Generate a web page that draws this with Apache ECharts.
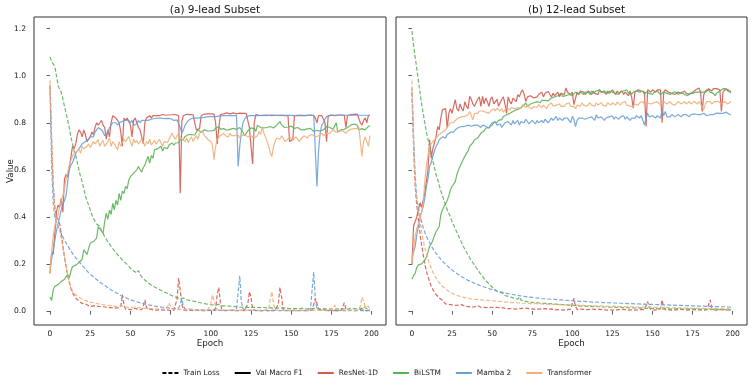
<!DOCTYPE html>
<html>
<head>
<meta charset="utf-8">
<script src="https://cdn.jsdelivr.net/npm/echarts@6/dist/echarts.min.js"></script>
<style>
html,body{margin:0;padding:0;background:#fff;}
#chart{width:753px;height:386px;}
</style>
</head>
<body>
<div id="chart"></div>
<script>
// ---------- Data ----------
const panelTitles = ['(a) 9-lead Subset', '(b) 12-lead Subset'];
const modelNames = ['ResNet-1D', 'BiLSTM', 'Mamba 2', 'Transformer'];
const styleNames = ['Train Loss', 'Val Macro F1'];
const xTicks = [0, 25, 50, 75, 100, 125, 150, 175, 200];
const yTicks = [0.0, 0.2, 0.4, 0.6, 0.8, 1.0, 1.2];
const epochs = Array.from({length: 200}, (_, i) => i);

// ----- (a) 9-lead -----
const L_RES_LOSS = [0.96,0.72,0.53,0.44,0.40,0.39,0.37,0.33,0.28,0.23,
0.19,0.15,0.12,0.095,0.078,0.065,0.055,0.048,0.042,0.036,
0.032,0.028,0.03,0.025,0.022,0.026,0.02,0.018,0.023,0.017,
0.02,0.016,0.019,0.014,0.017,0.012,0.015,0.011,0.014,0.01,
0.012,0.009,0.013,0.01,0.02,0.07,0.025,0.008,0.011,0.007,
0.01,0.006,0.009,0.012,0.007,0.005,0.008,0.006,0.02,0.047,
0.015,0.006,0.004,0.008,0.005,0.003,0.006,0.004,0.003,0.005,
0.003,0.004,0.002,0.005,0.003,0.002,0.004,0.003,0.002,0.05,
0.14,0.145,0.03,0.004,0.003,0.002,0.004,0.003,0.002,0.003,
0.002,0.004,0.002,0.003,0.002,0.002,0.003,0.002,0.002,0.003,
0.002,0.003,0.002,0.01,0.07,0.1,0.03,0.003,0.002,0.002,
0.003,0.002,0.002,0.003,0.002,0.002,0.003,0.002,0.002,0.003,
0.002,0.002,0.003,0.03,0.082,0.06,0.005,0.002,0.003,0.002,
0.002,0.003,0.002,0.002,0.003,0.002,0.002,0.003,0.002,0.002,
0.003,0.002,0.03,0.1,0.06,0.004,0.002,0.003,0.002,0.002,
0.01,0.003,0.002,0.002,0.003,0.002,0.002,0.003,0.002,0.002,
0.003,0.002,0.002,0.003,0.01,0.054,0.05,0.01,0.003,0.002,
0.002,0.01,0.003,0.002,0.002,0.003,0.002,0.002,0.003,0.002,
0.002,0.003,0.015,0.035,0.01,0.002,0.003,0.002,0.002,0.003,
0.002,0.002,0.003,0.006,0.01,0.003,0.002,0.002,0.003,0.002];
const L_BIL_LOSS = [1.08,1.06,1.05,1.04,1.00,0.96,0.94,0.93,0.90,0.87,
0.84,0.81,0.78,0.74,0.71,0.68,0.66,0.63,0.60,0.57,
0.55,0.52,0.49,0.47,0.45,0.43,0.41,0.395,0.38,0.37,
0.365,0.36,0.34,0.33,0.315,0.305,0.295,0.285,0.275,0.265,
0.258,0.25,0.24,0.232,0.225,0.218,0.21,0.205,0.198,0.19,
0.182,0.176,0.17,0.165,0.162,0.172,0.155,0.145,0.138,0.132,
0.126,0.12,0.115,0.11,0.106,0.102,0.098,0.095,0.092,0.088,
0.085,0.081,0.078,0.075,0.072,0.068,0.065,0.062,0.059,0.057,
0.055,0.053,0.05,0.055,0.05,0.048,0.046,0.044,0.045,0.042,
0.044,0.04,0.038,0.036,0.035,0.033,0.031,0.03,0.029,0.028,
0.027,0.026,0.03,0.025,0.024,0.028,0.023,0.022,0.021,0.022,
0.02,0.021,0.019,0.02,0.018,0.019,0.018,0.017,0.018,0.016,
0.017,0.016,0.018,0.015,0.016,0.015,0.014,0.016,0.014,0.015,
0.013,0.014,0.013,0.015,0.012,0.013,0.012,0.014,0.012,0.011,
0.013,0.012,0.011,0.013,0.011,0.012,0.01,0.012,0.011,0.01,
0.012,0.01,0.011,0.01,0.012,0.01,0.009,0.011,0.01,0.009,
0.011,0.009,0.01,0.009,0.011,0.012,0.01,0.009,0.011,0.009,
0.01,0.009,0.011,0.008,0.01,0.009,0.012,0.008,0.01,0.009,
0.008,0.01,0.009,0.008,0.01,0.008,0.009,0.011,0.008,0.009,
0.008,0.01,0.009,0.008,0.012,0.018,0.015,0.01,0.009,0.008];
const L_MAM_LOSS = [0.95,0.62,0.46,0.40,0.375,0.36,0.345,0.33,0.315,0.30,
0.29,0.278,0.266,0.255,0.245,0.235,0.226,0.218,0.21,0.202,
0.194,0.186,0.178,0.17,0.163,0.157,0.151,0.145,0.139,0.134,
0.129,0.123,0.118,0.113,0.108,0.103,0.099,0.094,0.09,0.086,
0.082,0.078,0.074,0.07,0.066,0.063,0.06,0.057,0.054,0.051,
0.048,0.046,0.043,0.041,0.039,0.037,0.035,0.033,0.031,0.029,
0.028,0.026,0.025,0.023,0.022,0.021,0.02,0.019,0.018,0.017,
0.016,0.015,0.014,0.013,0.013,0.012,0.011,0.011,0.01,0.01,
0.012,0.03,0.05,0.02,0.009,0.008,0.008,0.007,0.007,0.006,
0.006,0.006,0.005,0.005,0.005,0.005,0.004,0.004,0.004,0.004,
0.004,0.004,0.003,0.003,0.003,0.003,0.003,0.003,0.003,0.003,
0.003,0.003,0.003,0.003,0.003,0.003,0.01,0.08,0.15,0.04,
0.01,0.005,0.004,0.003,0.003,0.003,0.003,0.003,0.002,0.002,
0.002,0.003,0.002,0.002,0.002,0.003,0.002,0.002,0.002,0.002,
0.003,0.002,0.002,0.002,0.002,0.003,0.002,0.002,0.002,0.002,
0.002,0.003,0.002,0.002,0.002,0.002,0.003,0.002,0.002,0.002,
0.002,0.002,0.01,0.09,0.165,0.05,0.01,0.004,0.003,0.003,
0.003,0.002,0.002,0.002,0.003,0.002,0.002,0.002,0.002,0.003,
0.002,0.002,0.002,0.003,0.002,0.002,0.002,0.002,0.003,0.002,
0.002,0.002,0.003,0.002,0.002,0.002,0.002,0.003,0.002,0.002];
const L_TRA_LOSS = [0.98,0.74,0.55,0.43,0.37,0.355,0.34,0.31,0.27,0.23,
0.19,0.155,0.125,0.10,0.085,0.075,0.068,0.063,0.058,0.054,
0.05,0.047,0.044,0.042,0.04,0.038,0.036,0.035,0.033,0.032,
0.03,0.029,0.028,0.027,0.026,0.025,0.024,0.023,0.022,0.021,
0.021,0.02,0.019,0.019,0.018,0.022,0.017,0.016,0.02,0.016,
0.015,0.015,0.014,0.016,0.013,0.013,0.012,0.014,0.012,0.011,
0.011,0.012,0.01,0.01,0.011,0.009,0.01,0.009,0.008,0.009,
0.008,0.008,0.009,0.015,0.035,0.02,0.008,0.007,0.007,0.006,
0.007,0.006,0.006,0.007,0.005,0.006,0.005,0.005,0.006,0.005,
0.005,0.004,0.005,0.004,0.005,0.004,0.004,0.005,0.004,0.01,
0.03,0.068,0.065,0.02,0.005,0.004,0.004,0.003,0.004,0.003,
0.003,0.004,0.003,0.003,0.004,0.003,0.003,0.003,0.004,0.003,
0.003,0.003,0.004,0.003,0.003,0.003,0.004,0.003,0.003,0.003,
0.003,0.004,0.003,0.003,0.003,0.004,0.01,0.05,0.082,0.03,
0.005,0.003,0.003,0.004,0.003,0.003,0.003,0.004,0.003,0.003,
0.003,0.004,0.003,0.003,0.003,0.004,0.003,0.003,0.003,0.004,
0.003,0.003,0.004,0.003,0.003,0.003,0.004,0.003,0.003,0.003,
0.003,0.003,0.004,0.003,0.003,0.003,0.01,0.025,0.01,0.003,
0.003,0.003,0.004,0.003,0.003,0.003,0.004,0.003,0.003,0.003,
0.003,0.003,0.004,0.02,0.058,0.045,0.015,0.01,0.02,0.01];
const L_RES_F1 = [0.16,0.25,0.24,0.33,0.42,0.45,0.44,0.48,0.42,0.56,
0.58,0.57,0.61,0.61,0.70,0.69,0.71,0.75,0.77,0.76,
0.74,0.77,0.75,0.72,0.73,0.74,0.76,0.75,0.78,0.80,
0.79,0.80,0.81,0.79,0.78,0.73,0.77,0.74,0.80,0.83,
0.834,0.82,0.81,0.80,0.76,0.70,0.82,0.81,0.82,0.815,
0.79,0.74,0.81,0.82,0.80,0.78,0.77,0.74,0.71,0.80,
0.82,0.825,0.83,0.82,0.83,0.825,0.83,0.835,0.83,0.832,
0.835,0.83,0.832,0.835,0.833,0.835,0.834,0.836,0.835,0.832,
0.83,0.50,0.81,0.83,0.834,0.836,0.833,0.835,0.832,0.834,
0.80,0.77,0.77,0.775,0.83,0.835,0.837,0.835,0.838,0.836,
0.838,0.835,0.837,0.80,0.71,0.78,0.835,0.84,0.838,0.84,
0.842,0.84,0.838,0.84,0.842,0.84,0.838,0.84,0.841,0.839,
0.84,0.838,0.84,0.839,0.78,0.70,0.625,0.80,0.835,0.833,
0.832,0.833,0.83,0.832,0.833,0.83,0.832,0.831,0.833,0.83,
0.832,0.833,0.832,0.83,0.831,0.833,0.83,0.832,0.83,0.72,
0.714,0.73,0.83,0.832,0.83,0.833,0.831,0.832,0.83,0.833,
0.832,0.83,0.833,0.831,0.83,0.82,0.80,0.83,0.832,0.83,
0.831,0.80,0.72,0.83,0.832,0.833,0.831,0.83,0.832,0.833,
0.831,0.833,0.835,0.832,0.78,0.83,0.833,0.835,0.834,0.836,
0.835,0.837,0.834,0.80,0.79,0.81,0.82,0.80,0.831,0.832];
const L_BIL_F1 = [0.06,0.045,0.09,0.105,0.11,0.112,0.118,0.125,0.128,0.135,
0.146,0.155,0.14,0.17,0.189,0.19,0.195,0.203,0.205,0.21,
0.22,0.26,0.25,0.24,0.265,0.288,0.28,0.295,0.30,0.31,
0.359,0.366,0.34,0.33,0.38,0.416,0.39,0.43,0.41,0.458,
0.43,0.47,0.45,0.50,0.47,0.51,0.50,0.53,0.52,0.557,
0.571,0.57,0.586,0.58,0.60,0.614,0.60,0.59,0.61,0.62,
0.64,0.657,0.628,0.66,0.65,0.685,0.678,0.69,0.69,0.70,
0.68,0.695,0.70,0.69,0.705,0.71,0.714,0.705,0.714,0.72,
0.715,0.728,0.725,0.73,0.742,0.74,0.749,0.745,0.75,0.755,
0.748,0.76,0.77,0.763,0.76,0.755,0.77,0.777,0.765,0.77,
0.765,0.772,0.768,0.777,0.77,0.784,0.772,0.765,0.775,0.77,
0.768,0.775,0.772,0.768,0.776,0.78,0.772,0.777,0.78,0.77,
0.76,0.745,0.755,0.765,0.77,0.778,0.784,0.775,0.763,0.79,
0.785,0.78,0.784,0.778,0.772,0.78,0.776,0.784,0.78,0.778,
0.785,0.79,0.795,0.805,0.79,0.785,0.78,0.776,0.782,0.79,
0.786,0.78,0.776,0.772,0.78,0.775,0.77,0.763,0.77,0.776,
0.774,0.772,0.776,0.77,0.763,0.76,0.768,0.772,0.765,0.763,
0.77,0.775,0.784,0.778,0.78,0.776,0.772,0.78,0.80,0.76,
0.765,0.77,0.778,0.772,0.776,0.78,0.784,0.79,0.782,0.795,
0.80,0.79,0.77,0.765,0.775,0.78,0.77,0.775,0.785,0.787];
const L_MAM_F1 = [0.18,0.22,0.26,0.30,0.34,0.37,0.40,0.43,0.45,0.47,
0.49,0.55,0.60,0.62,0.63,0.65,0.67,0.68,0.69,0.70,
0.71,0.71,0.72,0.715,0.73,0.74,0.745,0.74,0.76,0.77,
0.78,0.775,0.77,0.76,0.745,0.74,0.76,0.78,0.79,0.80,
0.795,0.80,0.79,0.80,0.805,0.806,0.80,0.81,0.805,0.81,
0.80,0.81,0.79,0.79,0.795,0.81,0.80,0.81,0.812,0.81,
0.815,0.81,0.812,0.815,0.81,0.818,0.815,0.82,0.818,0.82,
0.82,0.818,0.82,0.819,0.82,0.818,0.815,0.81,0.81,0.812,
0.81,0.78,0.756,0.77,0.79,0.80,0.81,0.815,0.818,0.82,
0.82,0.822,0.82,0.823,0.822,0.825,0.823,0.825,0.826,0.825,
0.826,0.827,0.826,0.828,0.827,0.828,0.829,0.828,0.83,0.829,
0.83,0.829,0.83,0.831,0.83,0.831,0.83,0.614,0.70,0.76,
0.80,0.815,0.825,0.828,0.83,0.829,0.83,0.831,0.83,0.831,
0.83,0.831,0.832,0.831,0.83,0.831,0.832,0.831,0.83,0.831,
0.832,0.831,0.83,0.831,0.832,0.831,0.832,0.83,0.831,0.832,
0.831,0.832,0.83,0.831,0.832,0.831,0.832,0.831,0.83,0.832,
0.831,0.832,0.831,0.83,0.832,0.831,0.529,0.68,0.756,0.79,
0.80,0.815,0.826,0.829,0.83,0.831,0.832,0.831,0.832,0.831,
0.832,0.831,0.832,0.833,0.832,0.831,0.832,0.833,0.832,0.831,
0.832,0.833,0.832,0.831,0.832,0.833,0.832,0.831,0.832,0.832];
const L_TRA_F1 = [0.16,0.25,0.32,0.36,0.39,0.41,0.44,0.47,0.49,0.52,
0.56,0.59,0.62,0.64,0.66,0.67,0.665,0.68,0.69,0.67,
0.70,0.69,0.685,0.70,0.71,0.695,0.70,0.72,0.71,0.715,
0.728,0.70,0.715,0.725,0.70,0.71,0.72,0.735,0.70,0.72,
0.71,0.706,0.685,0.72,0.70,0.715,0.73,0.72,0.72,0.742,
0.72,0.70,0.73,0.715,0.725,0.71,0.714,0.73,0.72,0.70,
0.72,0.71,0.73,0.706,0.715,0.725,0.71,0.72,0.73,0.715,
0.70,0.72,0.725,0.715,0.73,0.742,0.756,0.74,0.73,0.745,
0.756,0.74,0.73,0.725,0.72,0.735,0.715,0.73,0.74,0.72,
0.735,0.745,0.73,0.755,0.76,0.763,0.745,0.74,0.73,0.735,
0.72,0.705,0.643,0.70,0.73,0.735,0.745,0.75,0.755,0.745,
0.75,0.74,0.755,0.745,0.75,0.745,0.74,0.748,0.735,0.745,
0.74,0.75,0.745,0.74,0.735,0.745,0.74,0.735,0.73,0.745,
0.763,0.75,0.784,0.755,0.74,0.72,0.70,0.671,0.657,0.70,
0.72,0.735,0.74,0.73,0.745,0.735,0.72,0.725,0.73,0.74,
0.735,0.725,0.73,0.74,0.735,0.72,0.73,0.735,0.745,0.74,
0.735,0.745,0.74,0.75,0.745,0.74,0.735,0.745,0.75,0.755,
0.745,0.75,0.755,0.763,0.755,0.76,0.77,0.765,0.76,0.755,
0.765,0.77,0.765,0.76,0.755,0.765,0.77,0.772,0.768,0.775,
0.77,0.775,0.784,0.72,0.657,0.72,0.74,0.72,0.70,0.745];

// ----- (b) 12-lead -----
const R_RES_LOSS = [0.93,0.70,0.53,0.45,0.387,0.33,0.28,0.24,0.20,0.17,
0.145,0.125,0.105,0.092,0.08,0.07,0.062,0.056,0.05,0.046,
0.038,0.03,0.036,0.028,0.032,0.026,0.03,0.024,0.029,0.025,
0.022,0.027,0.023,0.02,0.025,0.019,0.022,0.018,0.021,0.017,
0.02,0.023,0.018,0.016,0.02,0.015,0.018,0.014,0.017,0.015,
0.013,0.016,0.012,0.015,0.011,0.014,0.01,0.013,0.012,0.009,
0.012,0.01,0.013,0.009,0.011,0.008,0.012,0.01,0.007,0.011,
0.009,0.012,0.008,0.01,0.006,0.009,0.011,0.007,0.01,0.008,
0.006,0.009,0.007,0.01,0.006,0.008,0.005,0.009,0.007,0.005,
0.008,0.006,0.009,0.005,0.007,0.004,0.008,0.006,0.005,0.008,
0.01,0.054,0.02,0.006,0.005,0.008,0.004,0.007,0.005,0.006,
0.004,0.007,0.005,0.008,0.004,0.006,0.005,0.007,0.004,0.006,
0.005,0.004,0.007,0.005,0.006,0.004,0.007,0.005,0.004,0.006,
0.005,0.007,0.004,0.006,0.005,0.004,0.007,0.005,0.006,0.004,
0.006,0.005,0.004,0.007,0.005,0.006,0.01,0.04,0.015,0.005,
0.006,0.004,0.007,0.005,0.004,0.01,0.047,0.015,0.006,0.004,
0.006,0.005,0.004,0.007,0.005,0.004,0.006,0.005,0.007,0.004,
0.005,0.006,0.004,0.007,0.005,0.004,0.006,0.005,0.004,0.006,
0.005,0.007,0.004,0.005,0.006,0.01,0.047,0.012,0.005,0.004,
0.006,0.005,0.004,0.007,0.005,0.004,0.006,0.005,0.004,0.005];
const R_BIL_LOSS = [1.19,1.13,1.08,1.03,0.98,0.93,0.88,0.84,0.80,0.76,
0.73,0.70,0.67,0.64,0.61,0.58,0.56,0.535,0.51,0.49,
0.47,0.45,0.43,0.415,0.40,0.38,0.365,0.35,0.335,0.32,
0.305,0.29,0.275,0.262,0.25,0.238,0.226,0.215,0.205,0.195,
0.185,0.175,0.165,0.155,0.146,0.138,0.13,0.122,0.115,0.108,
0.102,0.096,0.09,0.085,0.08,0.076,0.078,0.07,0.066,0.064,
0.062,0.06,0.058,0.056,0.054,0.052,0.05,0.06,0.046,0.044,
0.042,0.041,0.04,0.039,0.038,0.037,0.036,0.035,0.036,0.034,
0.033,0.034,0.032,0.031,0.032,0.03,0.031,0.029,0.03,0.028,
0.029,0.027,0.028,0.026,0.027,0.025,0.026,0.024,0.025,0.023,
0.024,0.022,0.023,0.021,0.022,0.02,0.021,0.019,0.021,0.019,
0.02,0.018,0.019,0.018,0.02,0.017,0.018,0.016,0.018,0.016,
0.017,0.015,0.017,0.015,0.016,0.014,0.016,0.014,0.015,0.013,
0.015,0.013,0.014,0.012,0.014,0.012,0.013,0.011,0.013,0.011,
0.012,0.011,0.013,0.01,0.012,0.01,0.011,0.01,0.012,0.009,
0.011,0.009,0.011,0.01,0.009,0.011,0.009,0.01,0.008,0.01,
0.009,0.011,0.008,0.01,0.009,0.008,0.01,0.009,0.008,0.01,
0.008,0.009,0.01,0.008,0.009,0.007,0.009,0.008,0.007,0.009,
0.008,0.007,0.009,0.008,0.007,0.008,0.006,0.008,0.007,0.006,
0.008,0.007,0.006,0.008,0.006,0.007,0.006,0.007,0.005,0.006];
const R_MAM_LOSS = [0.95,0.75,0.58,0.48,0.44,0.41,0.38,0.355,0.335,0.318,
0.303,0.29,0.277,0.266,0.256,0.246,0.237,0.228,0.22,0.212,
0.205,0.198,0.192,0.186,0.18,0.174,0.169,0.164,0.159,0.155,
0.15,0.146,0.142,0.138,0.134,0.13,0.127,0.124,0.121,0.118,
0.115,0.112,0.11,0.107,0.105,0.102,0.1,0.098,0.095,0.093,
0.091,0.089,0.087,0.085,0.083,0.082,0.08,0.078,0.077,0.075,
0.074,0.072,0.071,0.07,0.068,0.067,0.066,0.065,0.064,0.063,
0.062,0.061,0.06,0.059,0.058,0.058,0.057,0.056,0.055,0.055,
0.054,0.053,0.053,0.052,0.051,0.051,0.05,0.05,0.049,0.049,
0.048,0.048,0.047,0.047,0.046,0.046,0.045,0.045,0.044,0.044,
0.044,0.043,0.043,0.042,0.042,0.041,0.041,0.041,0.04,0.04,
0.04,0.039,0.039,0.038,0.038,0.038,0.037,0.037,0.037,0.036,
0.036,0.036,0.035,0.035,0.035,0.034,0.034,0.034,0.033,0.033,
0.033,0.033,0.032,0.032,0.032,0.031,0.031,0.031,0.031,0.03,
0.03,0.03,0.03,0.029,0.029,0.029,0.029,0.028,0.028,0.028,
0.028,0.028,0.027,0.027,0.027,0.027,0.026,0.026,0.026,0.026,
0.026,0.025,0.025,0.025,0.025,0.024,0.024,0.024,0.024,0.024,
0.023,0.023,0.023,0.023,0.022,0.022,0.022,0.022,0.022,0.021,
0.021,0.021,0.021,0.02,0.02,0.02,0.02,0.02,0.019,0.019,
0.019,0.019,0.018,0.018,0.018,0.018,0.017,0.017,0.017,0.016];
const R_TRA_LOSS = [0.98,0.72,0.55,0.47,0.42,0.385,0.34,0.30,0.27,0.245,
0.22,0.2,0.182,0.166,0.152,0.14,0.13,0.121,0.113,0.105,
0.098,0.093,0.088,0.084,0.08,0.076,0.072,0.069,0.066,0.064,
0.062,0.06,0.058,0.057,0.055,0.054,0.052,0.051,0.05,0.049,
0.049,0.048,0.047,0.047,0.046,0.046,0.045,0.045,0.044,0.044,
0.044,0.043,0.042,0.042,0.041,0.041,0.04,0.039,0.039,0.038,
0.038,0.037,0.037,0.036,0.036,0.035,0.035,0.034,0.034,0.033,
0.033,0.033,0.032,0.032,0.032,0.031,0.031,0.031,0.03,0.03,
0.03,0.03,0.029,0.029,0.029,0.029,0.028,0.028,0.028,0.028,
0.028,0.027,0.027,0.027,0.027,0.026,0.026,0.026,0.026,0.026,
0.026,0.025,0.025,0.025,0.025,0.024,0.024,0.024,0.024,0.023,
0.023,0.023,0.023,0.022,0.022,0.022,0.022,0.022,0.021,0.021,
0.021,0.021,0.021,0.02,0.02,0.02,0.02,0.02,0.019,0.019,
0.019,0.019,0.019,0.018,0.018,0.018,0.018,0.018,0.018,0.017,
0.017,0.017,0.017,0.017,0.016,0.016,0.016,0.016,0.016,0.016,
0.015,0.015,0.015,0.015,0.015,0.015,0.014,0.014,0.014,0.014,
0.014,0.014,0.013,0.013,0.013,0.013,0.013,0.013,0.012,0.012,
0.012,0.012,0.012,0.012,0.012,0.011,0.011,0.011,0.011,0.011,
0.011,0.011,0.011,0.01,0.01,0.01,0.01,0.01,0.01,0.01,
0.01,0.01,0.009,0.009,0.009,0.009,0.009,0.009,0.009,0.009];
const R_RES_F1 = [0.196,0.36,0.36,0.40,0.43,0.46,0.44,0.47,0.50,0.55,
0.60,0.728,0.65,0.69,0.714,0.74,0.784,0.77,0.82,0.855,
0.85,0.86,0.777,0.84,0.86,0.84,0.87,0.898,0.86,0.85,
0.88,0.86,0.85,0.89,0.87,0.86,0.912,0.90,0.88,0.87,
0.862,0.90,0.91,0.87,0.912,0.88,0.905,0.89,0.87,0.90,
0.91,0.88,0.89,0.90,0.87,0.862,0.90,0.91,0.88,0.84,
0.91,0.89,0.88,0.905,0.91,0.89,0.92,0.91,0.93,0.94,
0.92,0.89,0.91,0.905,0.915,0.91,0.905,0.90,0.91,0.92,
0.915,0.93,0.91,0.925,0.92,0.933,0.92,0.91,0.925,0.915,
0.92,0.93,0.91,0.925,0.93,0.92,0.948,0.93,0.925,0.92,
0.93,0.877,0.87,0.93,0.92,0.935,0.94,0.93,0.92,0.925,
0.935,0.93,0.92,0.935,0.925,0.93,0.92,0.94,0.93,0.925,
0.93,0.92,0.935,0.925,0.93,0.94,0.93,0.92,0.935,0.925,
0.93,0.935,0.92,0.93,0.925,0.915,0.93,0.91,0.862,0.93,
0.935,0.94,0.94,0.935,0.94,0.93,0.784,0.94,0.935,0.93,
0.94,0.935,0.93,0.94,0.935,0.94,0.80,0.93,0.94,0.935,
0.93,0.935,0.925,0.93,0.92,0.925,0.93,0.935,0.925,0.93,
0.935,0.925,0.93,0.92,0.925,0.93,0.935,0.94,0.945,0.948,
0.93,0.848,0.92,0.935,0.94,0.945,0.94,0.935,0.945,0.948,
0.945,0.948,0.94,0.848,0.93,0.94,0.945,0.94,0.935,0.933];
const R_BIL_F1 = [0.135,0.15,0.16,0.185,0.196,0.198,0.2,0.203,0.215,0.231,
0.25,0.274,0.285,0.30,0.32,0.337,0.33,0.359,0.409,0.43,
0.444,0.45,0.47,0.49,0.515,0.529,0.54,0.55,0.58,0.60,
0.614,0.63,0.645,0.657,0.67,0.68,0.70,0.70,0.715,0.728,
0.72,0.735,0.745,0.756,0.763,0.765,0.777,0.77,0.78,0.785,
0.79,0.80,0.795,0.80,0.81,0.805,0.813,0.827,0.82,0.834,
0.83,0.84,0.835,0.848,0.84,0.855,0.85,0.86,0.855,0.87,
0.865,0.884,0.87,0.877,0.88,0.875,0.885,0.88,0.89,0.89,
0.885,0.895,0.89,0.895,0.90,0.893,0.895,0.905,0.90,0.91,
0.905,0.915,0.91,0.926,0.912,0.92,0.915,0.91,0.92,0.925,
0.915,0.92,0.93,0.925,0.92,0.93,0.925,0.92,0.93,0.925,
0.93,0.92,0.935,0.925,0.93,0.935,0.928,0.94,0.93,0.925,
0.935,0.93,0.925,0.935,0.94,0.93,0.935,0.925,0.93,0.92,
0.93,0.925,0.935,0.93,0.94,0.925,0.935,0.92,0.93,0.925,
0.935,0.94,0.93,0.925,0.935,0.92,0.93,0.935,0.925,0.93,
0.92,0.93,0.925,0.935,0.93,0.92,0.925,0.93,0.935,0.925,
0.93,0.92,0.925,0.93,0.935,0.93,0.92,0.928,0.93,0.926,
0.92,0.925,0.915,0.925,0.93,0.925,0.92,0.93,0.925,0.93,
0.935,0.93,0.925,0.93,0.935,0.94,0.93,0.935,0.925,0.915,
0.925,0.93,0.935,0.94,0.945,0.94,0.945,0.935,0.93,0.926];
const R_MAM_F1 = [0.224,0.25,0.274,0.323,0.36,0.40,0.42,0.444,0.48,0.53,
0.56,0.614,0.63,0.657,0.68,0.70,0.71,0.728,0.725,0.74,
0.745,0.735,0.75,0.756,0.76,0.765,0.76,0.77,0.775,0.78,
0.775,0.784,0.79,0.785,0.78,0.79,0.79,0.785,0.78,0.79,
0.785,0.79,0.795,0.78,0.79,0.795,0.785,0.78,0.777,0.79,
0.80,0.795,0.805,0.79,0.785,0.795,0.78,0.79,0.80,0.795,
0.805,0.80,0.79,0.81,0.795,0.80,0.81,0.79,0.805,0.81,
0.80,0.815,0.81,0.795,0.80,0.81,0.805,0.795,0.81,0.80,
0.805,0.81,0.80,0.815,0.81,0.80,0.805,0.82,0.81,0.815,
0.827,0.81,0.82,0.815,0.81,0.82,0.815,0.82,0.81,0.80,
0.827,0.815,0.784,0.81,0.82,0.815,0.82,0.825,0.815,0.82,
0.82,0.815,0.825,0.82,0.81,0.834,0.82,0.815,0.825,0.82,
0.81,0.82,0.815,0.825,0.82,0.83,0.815,0.825,0.82,0.815,
0.825,0.82,0.83,0.815,0.825,0.82,0.81,0.82,0.825,0.82,
0.83,0.825,0.82,0.83,0.825,0.79,0.82,0.841,0.825,0.82,
0.83,0.825,0.82,0.83,0.825,0.82,0.855,0.83,0.848,0.825,
0.83,0.825,0.835,0.83,0.825,0.83,0.835,0.83,0.825,0.835,
0.83,0.835,0.83,0.825,0.835,0.83,0.838,0.83,0.835,0.83,
0.835,0.83,0.84,0.835,0.83,0.838,0.835,0.84,0.835,0.83,
0.841,0.835,0.84,0.845,0.84,0.848,0.845,0.838,0.835,0.834];
const R_TRA_F1 = [0.21,0.26,0.316,0.35,0.37,0.387,0.42,0.458,0.55,0.62,
0.66,0.70,0.71,0.72,0.728,0.735,0.74,0.75,0.756,0.76,
0.765,0.77,0.78,0.79,0.80,0.795,0.80,0.81,0.805,0.82,
0.815,0.825,0.82,0.827,0.83,0.835,0.848,0.84,0.813,0.84,
0.845,0.84,0.85,0.845,0.85,0.855,0.845,0.85,0.84,0.85,
0.855,0.86,0.85,0.862,0.855,0.85,0.86,0.845,0.855,0.865,
0.86,0.855,0.865,0.87,0.86,0.855,0.865,0.87,0.86,0.877,
0.87,0.865,0.875,0.865,0.87,0.86,0.87,0.875,0.865,0.877,
0.87,0.865,0.875,0.87,0.86,0.875,0.87,0.884,0.87,0.865,
0.875,0.87,0.88,0.87,0.875,0.87,0.88,0.875,0.885,0.87,
0.875,0.87,0.86,0.875,0.88,0.87,0.885,0.875,0.88,0.87,
0.878,0.885,0.875,0.88,0.87,0.885,0.875,0.88,0.885,0.875,
0.88,0.87,0.885,0.88,0.875,0.885,0.88,0.875,0.888,0.88,
0.875,0.885,0.88,0.89,0.875,0.88,0.87,0.862,0.87,0.88,
0.885,0.875,0.885,0.88,0.89,0.875,0.88,0.885,0.89,0.88,
0.875,0.885,0.88,0.89,0.885,0.875,0.88,0.89,0.885,0.88,
0.885,0.89,0.88,0.885,0.875,0.88,0.89,0.885,0.88,0.885,
0.89,0.88,0.885,0.89,0.88,0.885,0.89,0.885,0.88,0.89,
0.885,0.87,0.855,0.88,0.89,0.885,0.89,0.88,0.885,0.89,
0.885,0.89,0.885,0.88,0.885,0.89,0.885,0.88,0.885,0.89];

// ---------- Styling ----------
const COLORS = {'ResNet-1D':'#d35b50', 'BiLSTM':'#5cb258', 'Mamba 2':'#6a9fd9', 'Transformer':'#f0b07a'};
const FONT = 'DejaVu Sans';
const DASH = [4, 2];

const panels = [
  {loss: [L_RES_LOSS, L_BIL_LOSS, L_MAM_LOSS, L_TRA_LOSS], f1: [L_RES_F1, L_BIL_F1, L_MAM_F1, L_TRA_F1]},
  {loss: [R_RES_LOSS, R_BIL_LOSS, R_MAM_LOSS, R_TRA_LOSS], f1: [R_RES_F1, R_BIL_F1, R_MAM_F1, R_TRA_F1]}
];

const gridPos = [{left: 34, width: 352}, {left: 396, width: 351}];
const series = [];
panels.forEach((p, gi) => {
  modelNames.forEach((m, mi) => {
    const c = COLORS[m];
    series.push({
      name: m + ' loss ' + gi, type: 'line', xAxisIndex: gi, yAxisIndex: gi,
      data: p.loss[mi].map((v, i) => [epochs[i], v]),
      symbol: 'none', silent: true, z: 2,
      lineStyle: {color: c, width: 1.2, type: DASH, opacity: 0.9}
    });
    series.push({
      name: m + ' f1 ' + gi, type: 'line', xAxisIndex: gi, yAxisIndex: gi,
      data: p.f1[mi].map((v, i) => [epochs[i], v]),
      symbol: 'none', silent: true, z: 2,
      lineStyle: {color: c, width: 1.2, type: 'solid', opacity: 0.9}
    });
  });
});
// legend-only series
series.push({name: 'Train Loss', type: 'line', data: [], symbol: 'none', xAxisIndex: 0, yAxisIndex: 0,
  itemStyle: {color: '#000'}, lineStyle: {color: '#000', width: 1.2, type: DASH}});
series.push({name: 'Val Macro F1', type: 'line', data: [], symbol: 'none', xAxisIndex: 0, yAxisIndex: 0,
  itemStyle: {color: '#000'}, lineStyle: {color: '#000', width: 1.2, type: 'solid'}});
modelNames.forEach(m => series.push({name: m, type: 'line', data: [], symbol: 'none', xAxisIndex: 0, yAxisIndex: 0,
  itemStyle: {color: COLORS[m]}, lineStyle: {color: COLORS[m], width: 1.2, type: 'solid'}}));

function xAxis(gi) {
  return {
    type: 'value', gridIndex: gi, min: -9.95, max: 208.95,
    name: 'Epoch', nameLocation: 'middle', nameGap: 14, nameMoveOverlap: false,
    nameTextStyle: {fontFamily: FONT, fontSize: 8.7, color: '#222'},
    axisLine: {show: false},
    axisTick: {show: true, length: 3.5, lineStyle: {color: '#333', width: 0.8}, customValues: xTicks},
    axisLabel: {show: true, fontFamily: FONT, fontSize: 7.6, color: '#222', margin: 5, customValues: xTicks,
      formatter: v => String(v)},
    splitLine: {show: false}
  };
}
function yAxis(gi) {
  return {
    type: 'value', gridIndex: gi, min: -0.0595, max: 1.2495,
    name: gi === 0 ? 'Value' : '', nameLocation: 'middle', nameGap: 19, nameMoveOverlap: false,
    nameTextStyle: {fontFamily: FONT, fontSize: 8.7, color: '#222'},
    axisLine: {show: false},
    axisTick: {show: true, length: 3.5, lineStyle: {color: '#333', width: 0.8}, customValues: yTicks},
    axisLabel: {show: gi === 0, fontFamily: FONT, fontSize: 7.6, color: '#222', margin: 8, customValues: yTicks,
      formatter: v => v.toFixed(1)},
    splitLine: {show: false}
  };
}

const chart = echarts.init(document.getElementById('chart'), null, {renderer: 'canvas'});
chart.setOption({
  animation: false,
  backgroundColor: '#fff',
  title: panelTitles.map((t, i) => ({
    text: t, left: gridPos[i].left + gridPos[i].width / 2, top: 0, textAlign: 'center',
    textStyle: {fontFamily: FONT, fontSize: 10.5, fontWeight: 'normal', color: '#111'}
  })),
  grid: gridPos.map(g => ({left: g.left, width: g.width, top: 17, height: 308, show: true,
    borderColor: '#333', borderWidth: 1, backgroundColor: 'transparent', containLabel: false})),
  xAxis: [xAxis(0), xAxis(1)],
  yAxis: [yAxis(0), yAxis(1)],
  legend: {
    data: styleNames.concat(modelNames), left: 'center', top: 364,
    itemWidth: 16, itemHeight: 10, itemGap: 14,
    itemStyle: {opacity: 0},
    textStyle: {fontFamily: FONT, fontSize: 7.4, color: '#222'}
  },
  series: series
});
</script>
</body>
</html>
